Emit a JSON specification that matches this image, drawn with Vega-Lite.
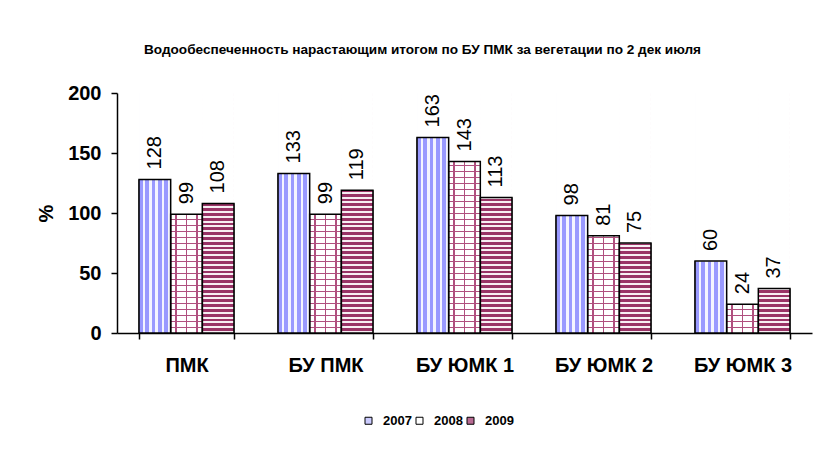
{
  "$schema": "https://vega.github.io/schema/vega-lite/v6.json",
  "width": 695,
  "height": 240,
  "autosize": {"type": "none"},
  "padding": {"left": 117, "top": 93, "right": 2, "bottom": 118},
  "background": "white",
  "config": {"view": {"stroke": null}, "font": "Liberation Sans"},
  "title": {"text": "Водообеспеченность нарастающим  итогом  по БУ ПМК за вегетации по 2 дек  июля", "fontSize": 13.6, "fontWeight": "bold", "font": "Liberation Sans", "anchor": "middle", "dx": -42, "offset": 26, "color": "black"},
  "data": {"values": [
    {"group": "ПМК", "year": "2007", "value": 128},
    {"group": "ПМК", "year": "2008", "value": 99},
    {"group": "ПМК", "year": "2009", "value": 108},
    {"group": "БУ ПМК", "year": "2007", "value": 133},
    {"group": "БУ ПМК", "year": "2008", "value": 99},
    {"group": "БУ ПМК", "year": "2009", "value": 119},
    {"group": "БУ ЮМК 1", "year": "2007", "value": 163},
    {"group": "БУ ЮМК 1", "year": "2008", "value": 143},
    {"group": "БУ ЮМК 1", "year": "2009", "value": 113},
    {"group": "БУ ЮМК 2", "year": "2007", "value": 98},
    {"group": "БУ ЮМК 2", "year": "2008", "value": 81},
    {"group": "БУ ЮМК 2", "year": "2009", "value": 75},
    {"group": "БУ ЮМК 3", "year": "2007", "value": 60},
    {"group": "БУ ЮМК 3", "year": "2008", "value": 24},
    {"group": "БУ ЮМК 3", "year": "2009", "value": 37}
  ]},
  "encoding": {
    "x": {"field": "group", "type": "nominal", "sort": null,
      "scale": {"paddingInner": 0.317, "paddingOuter": 0.1585},
      "axis": {"title": null, "labelAngle": 0, "labelFontSize": 20, "labelFontWeight": "bold", "labelColor": "black", "labelFont": "Liberation Sans", "labelPadding": 16, "tickBand": "extent", "tickSize": 6, "tickColor": "black", "tickWidth": 1.5, "domainColor": "black", "domainWidth": 1.5}},
    "xOffset": {"field": "year", "type": "nominal"}
  },
  "layer": [
    {
      "mark": {"type": "bar", "stroke": "black", "strokeWidth": 1},
      "encoding": {
        "y": {"field": "value", "type": "quantitative", "scale": {"domain": [0, 200], "nice": false},
          "axis": {"values": [0, 50, 100, 150, 200], "title": "%", "titleFontSize": 20, "titleFontWeight": "bold", "titleColor": "black", "titleFont": "Liberation Sans", "titlePadding": 11, "labelFontSize": 20, "labelFontWeight": "bold", "labelColor": "black", "labelFont": "Liberation Sans", "labelPadding": 10, "grid": false, "tickSize": 6, "tickColor": "black", "tickWidth": 1.5, "domainColor": "black", "domainWidth": 1.5}},
        "fill": {"field": "year", "type": "nominal", "scale": {"range": ["#ccccff", "#ffffff", "#b86b93"]},
          "legend": {"title": null, "orient": "none", "legendX": 245, "legendY": 321, "direction": "horizontal", "symbolType": "square", "symbolSize": 49, "symbolStrokeColor": "black", "symbolStrokeWidth": 1, "symbolOpacity": 1, "labelFontSize": 13, "labelFontWeight": "bold", "labelFont": "Liberation Sans", "labelColor": "black", "labelOffset": 8, "columnPadding": 1, "padding": 0}}
      }
    },
    {
      "transform": [{"filter": "datum.year == '2007'"}],
      "mark": {"type": "bar", "fill": {"gradient": "linear", "x1": 0, "y1": 0, "x2": 1, "y2": 0, "stops": [
        {"offset": 0, "color": "#9999ff"}, {"offset": 0.12, "color": "#9999ff"}, {"offset": 0.12, "color": "#f4f4ff"}, {"offset": 0.2, "color": "#f4f4ff"},
        {"offset": 0.2, "color": "#9999ff"}, {"offset": 0.32, "color": "#9999ff"}, {"offset": 0.32, "color": "#f4f4ff"}, {"offset": 0.4, "color": "#f4f4ff"},
        {"offset": 0.4, "color": "#9999ff"}, {"offset": 0.52, "color": "#9999ff"}, {"offset": 0.52, "color": "#f4f4ff"}, {"offset": 0.6, "color": "#f4f4ff"},
        {"offset": 0.6, "color": "#9999ff"}, {"offset": 0.72, "color": "#9999ff"}, {"offset": 0.72, "color": "#f4f4ff"}, {"offset": 0.8, "color": "#f4f4ff"},
        {"offset": 0.8, "color": "#9999ff"}, {"offset": 0.92, "color": "#9999ff"}, {"offset": 0.92, "color": "#f4f4ff"}, {"offset": 1, "color": "#f4f4ff"}
      ]}},
      "encoding": {"y": {"datum": 0}, "y2": {"datum": 200}}
    },
    {
      "transform": [{"filter": "datum.year == '2008'"}],
      "mark": {"type": "bar", "fill": {"gradient": "linear", "x1": 0, "y1": 0, "x2": 0, "y2": 1, "stops": [
        {"offset": 0, "color": "#b0507f"}, {"offset": 0.005, "color": "#b0507f"}, {"offset": 0.005, "color": "#ffffff"}, {"offset": 0.025, "color": "#ffffff"},
        {"offset": 0.025, "color": "#b0507f"}, {"offset": 0.03, "color": "#b0507f"}, {"offset": 0.03, "color": "#ffffff"}, {"offset": 0.05, "color": "#ffffff"},
        {"offset": 0.05, "color": "#b0507f"}, {"offset": 0.055, "color": "#b0507f"}, {"offset": 0.055, "color": "#ffffff"}, {"offset": 0.075, "color": "#ffffff"},
        {"offset": 0.075, "color": "#b0507f"}, {"offset": 0.08, "color": "#b0507f"}, {"offset": 0.08, "color": "#ffffff"}, {"offset": 0.1, "color": "#ffffff"},
        {"offset": 0.1, "color": "#b0507f"}, {"offset": 0.105, "color": "#b0507f"}, {"offset": 0.105, "color": "#ffffff"}, {"offset": 0.125, "color": "#ffffff"},
        {"offset": 0.125, "color": "#b0507f"}, {"offset": 0.13, "color": "#b0507f"}, {"offset": 0.13, "color": "#ffffff"}, {"offset": 0.15, "color": "#ffffff"},
        {"offset": 0.15, "color": "#b0507f"}, {"offset": 0.155, "color": "#b0507f"}, {"offset": 0.155, "color": "#ffffff"}, {"offset": 0.175, "color": "#ffffff"},
        {"offset": 0.175, "color": "#b0507f"}, {"offset": 0.18, "color": "#b0507f"}, {"offset": 0.18, "color": "#ffffff"}, {"offset": 0.2, "color": "#ffffff"},
        {"offset": 0.2, "color": "#b0507f"}, {"offset": 0.205, "color": "#b0507f"}, {"offset": 0.205, "color": "#ffffff"}, {"offset": 0.225, "color": "#ffffff"},
        {"offset": 0.225, "color": "#b0507f"}, {"offset": 0.23, "color": "#b0507f"}, {"offset": 0.23, "color": "#ffffff"}, {"offset": 0.25, "color": "#ffffff"},
        {"offset": 0.25, "color": "#b0507f"}, {"offset": 0.255, "color": "#b0507f"}, {"offset": 0.255, "color": "#ffffff"}, {"offset": 0.275, "color": "#ffffff"},
        {"offset": 0.275, "color": "#b0507f"}, {"offset": 0.28, "color": "#b0507f"}, {"offset": 0.28, "color": "#ffffff"}, {"offset": 0.3, "color": "#ffffff"},
        {"offset": 0.3, "color": "#b0507f"}, {"offset": 0.305, "color": "#b0507f"}, {"offset": 0.305, "color": "#ffffff"}, {"offset": 0.325, "color": "#ffffff"},
        {"offset": 0.325, "color": "#b0507f"}, {"offset": 0.33, "color": "#b0507f"}, {"offset": 0.33, "color": "#ffffff"}, {"offset": 0.35, "color": "#ffffff"},
        {"offset": 0.35, "color": "#b0507f"}, {"offset": 0.355, "color": "#b0507f"}, {"offset": 0.355, "color": "#ffffff"}, {"offset": 0.375, "color": "#ffffff"},
        {"offset": 0.375, "color": "#b0507f"}, {"offset": 0.38, "color": "#b0507f"}, {"offset": 0.38, "color": "#ffffff"}, {"offset": 0.4, "color": "#ffffff"},
        {"offset": 0.4, "color": "#b0507f"}, {"offset": 0.405, "color": "#b0507f"}, {"offset": 0.405, "color": "#ffffff"}, {"offset": 0.425, "color": "#ffffff"},
        {"offset": 0.425, "color": "#b0507f"}, {"offset": 0.43, "color": "#b0507f"}, {"offset": 0.43, "color": "#ffffff"}, {"offset": 0.45, "color": "#ffffff"},
        {"offset": 0.45, "color": "#b0507f"}, {"offset": 0.455, "color": "#b0507f"}, {"offset": 0.455, "color": "#ffffff"}, {"offset": 0.475, "color": "#ffffff"},
        {"offset": 0.475, "color": "#b0507f"}, {"offset": 0.48, "color": "#b0507f"}, {"offset": 0.48, "color": "#ffffff"}, {"offset": 0.5, "color": "#ffffff"},
        {"offset": 0.5, "color": "#b0507f"}, {"offset": 0.505, "color": "#b0507f"}, {"offset": 0.505, "color": "#ffffff"}, {"offset": 0.525, "color": "#ffffff"},
        {"offset": 0.525, "color": "#b0507f"}, {"offset": 0.53, "color": "#b0507f"}, {"offset": 0.53, "color": "#ffffff"}, {"offset": 0.55, "color": "#ffffff"},
        {"offset": 0.55, "color": "#b0507f"}, {"offset": 0.555, "color": "#b0507f"}, {"offset": 0.555, "color": "#ffffff"}, {"offset": 0.575, "color": "#ffffff"},
        {"offset": 0.575, "color": "#b0507f"}, {"offset": 0.58, "color": "#b0507f"}, {"offset": 0.58, "color": "#ffffff"}, {"offset": 0.6, "color": "#ffffff"},
        {"offset": 0.6, "color": "#b0507f"}, {"offset": 0.605, "color": "#b0507f"}, {"offset": 0.605, "color": "#ffffff"}, {"offset": 0.625, "color": "#ffffff"},
        {"offset": 0.625, "color": "#b0507f"}, {"offset": 0.63, "color": "#b0507f"}, {"offset": 0.63, "color": "#ffffff"}, {"offset": 0.65, "color": "#ffffff"},
        {"offset": 0.65, "color": "#b0507f"}, {"offset": 0.655, "color": "#b0507f"}, {"offset": 0.655, "color": "#ffffff"}, {"offset": 0.675, "color": "#ffffff"},
        {"offset": 0.675, "color": "#b0507f"}, {"offset": 0.68, "color": "#b0507f"}, {"offset": 0.68, "color": "#ffffff"}, {"offset": 0.7, "color": "#ffffff"},
        {"offset": 0.7, "color": "#b0507f"}, {"offset": 0.705, "color": "#b0507f"}, {"offset": 0.705, "color": "#ffffff"}, {"offset": 0.725, "color": "#ffffff"},
        {"offset": 0.725, "color": "#b0507f"}, {"offset": 0.73, "color": "#b0507f"}, {"offset": 0.73, "color": "#ffffff"}, {"offset": 0.75, "color": "#ffffff"},
        {"offset": 0.75, "color": "#b0507f"}, {"offset": 0.755, "color": "#b0507f"}, {"offset": 0.755, "color": "#ffffff"}, {"offset": 0.775, "color": "#ffffff"},
        {"offset": 0.775, "color": "#b0507f"}, {"offset": 0.78, "color": "#b0507f"}, {"offset": 0.78, "color": "#ffffff"}, {"offset": 0.8, "color": "#ffffff"},
        {"offset": 0.8, "color": "#b0507f"}, {"offset": 0.805, "color": "#b0507f"}, {"offset": 0.805, "color": "#ffffff"}, {"offset": 0.825, "color": "#ffffff"},
        {"offset": 0.825, "color": "#b0507f"}, {"offset": 0.83, "color": "#b0507f"}, {"offset": 0.83, "color": "#ffffff"}, {"offset": 0.85, "color": "#ffffff"},
        {"offset": 0.85, "color": "#b0507f"}, {"offset": 0.855, "color": "#b0507f"}, {"offset": 0.855, "color": "#ffffff"}, {"offset": 0.875, "color": "#ffffff"},
        {"offset": 0.875, "color": "#b0507f"}, {"offset": 0.88, "color": "#b0507f"}, {"offset": 0.88, "color": "#ffffff"}, {"offset": 0.9, "color": "#ffffff"},
        {"offset": 0.9, "color": "#b0507f"}, {"offset": 0.905, "color": "#b0507f"}, {"offset": 0.905, "color": "#ffffff"}, {"offset": 0.925, "color": "#ffffff"},
        {"offset": 0.925, "color": "#b0507f"}, {"offset": 0.93, "color": "#b0507f"}, {"offset": 0.93, "color": "#ffffff"}, {"offset": 0.95, "color": "#ffffff"},
        {"offset": 0.95, "color": "#b0507f"}, {"offset": 0.955, "color": "#b0507f"}, {"offset": 0.955, "color": "#ffffff"}, {"offset": 0.975, "color": "#ffffff"},
        {"offset": 0.975, "color": "#b0507f"}, {"offset": 0.98, "color": "#b0507f"}, {"offset": 0.98, "color": "#ffffff"}, {"offset": 1, "color": "#ffffff"}
      ]}},
      "encoding": {"y": {"datum": 0}, "y2": {"datum": 200}}
    },
    {
      "transform": [{"filter": "datum.year == '2008'"}],
      "mark": {"type": "bar", "fill": {"gradient": "linear", "x1": 0, "y1": 0, "x2": 1, "y2": 0, "stops": [
        {"offset": 0, "color": "rgba(255,255,255,0)"}, {"offset": 0.15, "color": "rgba(255,255,255,0)"},
        {"offset": 0.15, "color": "#b0507f"}, {"offset": 0.19, "color": "#b0507f"},
        {"offset": 0.19, "color": "rgba(255,255,255,0)"}, {"offset": 0.48, "color": "rgba(255,255,255,0)"},
        {"offset": 0.48, "color": "#b0507f"}, {"offset": 0.52, "color": "#b0507f"},
        {"offset": 0.52, "color": "rgba(255,255,255,0)"}, {"offset": 0.81, "color": "rgba(255,255,255,0)"},
        {"offset": 0.81, "color": "#b0507f"}, {"offset": 0.85, "color": "#b0507f"},
        {"offset": 0.85, "color": "rgba(255,255,255,0)"}, {"offset": 1, "color": "rgba(255,255,255,0)"}
      ]}},
      "encoding": {"y": {"datum": 0}, "y2": {"datum": 200}}
    },
    {
      "transform": [{"filter": "datum.year == '2009'"}],
      "mark": {"type": "bar", "fill": {"gradient": "linear", "x1": 0, "y1": 0, "x2": 0, "y2": 1, "stops": [
        {"offset": 0, "color": "#993366"}, {"offset": 0.012, "color": "#993366"}, {"offset": 0.012, "color": "#f8eef3"}, {"offset": 0.02, "color": "#f8eef3"},
        {"offset": 0.02, "color": "#993366"}, {"offset": 0.032, "color": "#993366"}, {"offset": 0.032, "color": "#f8eef3"}, {"offset": 0.04, "color": "#f8eef3"},
        {"offset": 0.04, "color": "#993366"}, {"offset": 0.052, "color": "#993366"}, {"offset": 0.052, "color": "#f8eef3"}, {"offset": 0.06, "color": "#f8eef3"},
        {"offset": 0.06, "color": "#993366"}, {"offset": 0.072, "color": "#993366"}, {"offset": 0.072, "color": "#f8eef3"}, {"offset": 0.08, "color": "#f8eef3"},
        {"offset": 0.08, "color": "#993366"}, {"offset": 0.092, "color": "#993366"}, {"offset": 0.092, "color": "#f8eef3"}, {"offset": 0.1, "color": "#f8eef3"},
        {"offset": 0.1, "color": "#993366"}, {"offset": 0.112, "color": "#993366"}, {"offset": 0.112, "color": "#f8eef3"}, {"offset": 0.12, "color": "#f8eef3"},
        {"offset": 0.12, "color": "#993366"}, {"offset": 0.132, "color": "#993366"}, {"offset": 0.132, "color": "#f8eef3"}, {"offset": 0.14, "color": "#f8eef3"},
        {"offset": 0.14, "color": "#993366"}, {"offset": 0.152, "color": "#993366"}, {"offset": 0.152, "color": "#f8eef3"}, {"offset": 0.16, "color": "#f8eef3"},
        {"offset": 0.16, "color": "#993366"}, {"offset": 0.172, "color": "#993366"}, {"offset": 0.172, "color": "#f8eef3"}, {"offset": 0.18, "color": "#f8eef3"},
        {"offset": 0.18, "color": "#993366"}, {"offset": 0.192, "color": "#993366"}, {"offset": 0.192, "color": "#f8eef3"}, {"offset": 0.2, "color": "#f8eef3"},
        {"offset": 0.2, "color": "#993366"}, {"offset": 0.212, "color": "#993366"}, {"offset": 0.212, "color": "#f8eef3"}, {"offset": 0.22, "color": "#f8eef3"},
        {"offset": 0.22, "color": "#993366"}, {"offset": 0.232, "color": "#993366"}, {"offset": 0.232, "color": "#f8eef3"}, {"offset": 0.24, "color": "#f8eef3"},
        {"offset": 0.24, "color": "#993366"}, {"offset": 0.252, "color": "#993366"}, {"offset": 0.252, "color": "#f8eef3"}, {"offset": 0.26, "color": "#f8eef3"},
        {"offset": 0.26, "color": "#993366"}, {"offset": 0.272, "color": "#993366"}, {"offset": 0.272, "color": "#f8eef3"}, {"offset": 0.28, "color": "#f8eef3"},
        {"offset": 0.28, "color": "#993366"}, {"offset": 0.292, "color": "#993366"}, {"offset": 0.292, "color": "#f8eef3"}, {"offset": 0.3, "color": "#f8eef3"},
        {"offset": 0.3, "color": "#993366"}, {"offset": 0.312, "color": "#993366"}, {"offset": 0.312, "color": "#f8eef3"}, {"offset": 0.32, "color": "#f8eef3"},
        {"offset": 0.32, "color": "#993366"}, {"offset": 0.332, "color": "#993366"}, {"offset": 0.332, "color": "#f8eef3"}, {"offset": 0.34, "color": "#f8eef3"},
        {"offset": 0.34, "color": "#993366"}, {"offset": 0.352, "color": "#993366"}, {"offset": 0.352, "color": "#f8eef3"}, {"offset": 0.36, "color": "#f8eef3"},
        {"offset": 0.36, "color": "#993366"}, {"offset": 0.372, "color": "#993366"}, {"offset": 0.372, "color": "#f8eef3"}, {"offset": 0.38, "color": "#f8eef3"},
        {"offset": 0.38, "color": "#993366"}, {"offset": 0.392, "color": "#993366"}, {"offset": 0.392, "color": "#f8eef3"}, {"offset": 0.4, "color": "#f8eef3"},
        {"offset": 0.4, "color": "#993366"}, {"offset": 0.412, "color": "#993366"}, {"offset": 0.412, "color": "#f8eef3"}, {"offset": 0.42, "color": "#f8eef3"},
        {"offset": 0.42, "color": "#993366"}, {"offset": 0.432, "color": "#993366"}, {"offset": 0.432, "color": "#f8eef3"}, {"offset": 0.44, "color": "#f8eef3"},
        {"offset": 0.44, "color": "#993366"}, {"offset": 0.452, "color": "#993366"}, {"offset": 0.452, "color": "#f8eef3"}, {"offset": 0.46, "color": "#f8eef3"},
        {"offset": 0.46, "color": "#993366"}, {"offset": 0.472, "color": "#993366"}, {"offset": 0.472, "color": "#f8eef3"}, {"offset": 0.48, "color": "#f8eef3"},
        {"offset": 0.48, "color": "#993366"}, {"offset": 0.492, "color": "#993366"}, {"offset": 0.492, "color": "#f8eef3"}, {"offset": 0.5, "color": "#f8eef3"},
        {"offset": 0.5, "color": "#993366"}, {"offset": 0.512, "color": "#993366"}, {"offset": 0.512, "color": "#f8eef3"}, {"offset": 0.52, "color": "#f8eef3"},
        {"offset": 0.52, "color": "#993366"}, {"offset": 0.532, "color": "#993366"}, {"offset": 0.532, "color": "#f8eef3"}, {"offset": 0.54, "color": "#f8eef3"},
        {"offset": 0.54, "color": "#993366"}, {"offset": 0.552, "color": "#993366"}, {"offset": 0.552, "color": "#f8eef3"}, {"offset": 0.56, "color": "#f8eef3"},
        {"offset": 0.56, "color": "#993366"}, {"offset": 0.572, "color": "#993366"}, {"offset": 0.572, "color": "#f8eef3"}, {"offset": 0.58, "color": "#f8eef3"},
        {"offset": 0.58, "color": "#993366"}, {"offset": 0.592, "color": "#993366"}, {"offset": 0.592, "color": "#f8eef3"}, {"offset": 0.6, "color": "#f8eef3"},
        {"offset": 0.6, "color": "#993366"}, {"offset": 0.612, "color": "#993366"}, {"offset": 0.612, "color": "#f8eef3"}, {"offset": 0.62, "color": "#f8eef3"},
        {"offset": 0.62, "color": "#993366"}, {"offset": 0.632, "color": "#993366"}, {"offset": 0.632, "color": "#f8eef3"}, {"offset": 0.64, "color": "#f8eef3"},
        {"offset": 0.64, "color": "#993366"}, {"offset": 0.652, "color": "#993366"}, {"offset": 0.652, "color": "#f8eef3"}, {"offset": 0.66, "color": "#f8eef3"},
        {"offset": 0.66, "color": "#993366"}, {"offset": 0.672, "color": "#993366"}, {"offset": 0.672, "color": "#f8eef3"}, {"offset": 0.68, "color": "#f8eef3"},
        {"offset": 0.68, "color": "#993366"}, {"offset": 0.692, "color": "#993366"}, {"offset": 0.692, "color": "#f8eef3"}, {"offset": 0.7, "color": "#f8eef3"},
        {"offset": 0.7, "color": "#993366"}, {"offset": 0.712, "color": "#993366"}, {"offset": 0.712, "color": "#f8eef3"}, {"offset": 0.72, "color": "#f8eef3"},
        {"offset": 0.72, "color": "#993366"}, {"offset": 0.732, "color": "#993366"}, {"offset": 0.732, "color": "#f8eef3"}, {"offset": 0.74, "color": "#f8eef3"},
        {"offset": 0.74, "color": "#993366"}, {"offset": 0.752, "color": "#993366"}, {"offset": 0.752, "color": "#f8eef3"}, {"offset": 0.76, "color": "#f8eef3"},
        {"offset": 0.76, "color": "#993366"}, {"offset": 0.772, "color": "#993366"}, {"offset": 0.772, "color": "#f8eef3"}, {"offset": 0.78, "color": "#f8eef3"},
        {"offset": 0.78, "color": "#993366"}, {"offset": 0.792, "color": "#993366"}, {"offset": 0.792, "color": "#f8eef3"}, {"offset": 0.8, "color": "#f8eef3"},
        {"offset": 0.8, "color": "#993366"}, {"offset": 0.812, "color": "#993366"}, {"offset": 0.812, "color": "#f8eef3"}, {"offset": 0.82, "color": "#f8eef3"},
        {"offset": 0.82, "color": "#993366"}, {"offset": 0.832, "color": "#993366"}, {"offset": 0.832, "color": "#f8eef3"}, {"offset": 0.84, "color": "#f8eef3"},
        {"offset": 0.84, "color": "#993366"}, {"offset": 0.852, "color": "#993366"}, {"offset": 0.852, "color": "#f8eef3"}, {"offset": 0.86, "color": "#f8eef3"},
        {"offset": 0.86, "color": "#993366"}, {"offset": 0.872, "color": "#993366"}, {"offset": 0.872, "color": "#f8eef3"}, {"offset": 0.88, "color": "#f8eef3"},
        {"offset": 0.88, "color": "#993366"}, {"offset": 0.892, "color": "#993366"}, {"offset": 0.892, "color": "#f8eef3"}, {"offset": 0.9, "color": "#f8eef3"},
        {"offset": 0.9, "color": "#993366"}, {"offset": 0.912, "color": "#993366"}, {"offset": 0.912, "color": "#f8eef3"}, {"offset": 0.92, "color": "#f8eef3"},
        {"offset": 0.92, "color": "#993366"}, {"offset": 0.932, "color": "#993366"}, {"offset": 0.932, "color": "#f8eef3"}, {"offset": 0.94, "color": "#f8eef3"},
        {"offset": 0.94, "color": "#993366"}, {"offset": 0.952, "color": "#993366"}, {"offset": 0.952, "color": "#f8eef3"}, {"offset": 0.96, "color": "#f8eef3"},
        {"offset": 0.96, "color": "#993366"}, {"offset": 0.972, "color": "#993366"}, {"offset": 0.972, "color": "#f8eef3"}, {"offset": 0.98, "color": "#f8eef3"},
        {"offset": 0.98, "color": "#993366"}, {"offset": 0.992, "color": "#993366"}, {"offset": 0.992, "color": "#f8eef3"}, {"offset": 1, "color": "#f8eef3"}
      ]}},
      "encoding": {"y": {"datum": 0}, "y2": {"datum": 200}}
    },
    {
      "mark": {"type": "bar", "fill": "white", "stroke": "white", "strokeWidth": 1},
      "encoding": {"y": {"field": "value", "type": "quantitative"}, "y2": {"datum": 200}}
    },
    {
      "mark": {"type": "bar", "fill": "transparent", "stroke": "black", "strokeWidth": 1.5},
      "encoding": {"y": {"field": "value", "type": "quantitative"}}
    },
    {
      "mark": {"type": "text", "angle": 270, "align": "left", "baseline": "middle", "dx": 10, "fontSize": 20, "font": "Liberation Sans", "color": "black"},
      "encoding": {"y": {"field": "value", "type": "quantitative"}, "text": {"field": "value", "type": "quantitative"}}
    }
  ]
}
